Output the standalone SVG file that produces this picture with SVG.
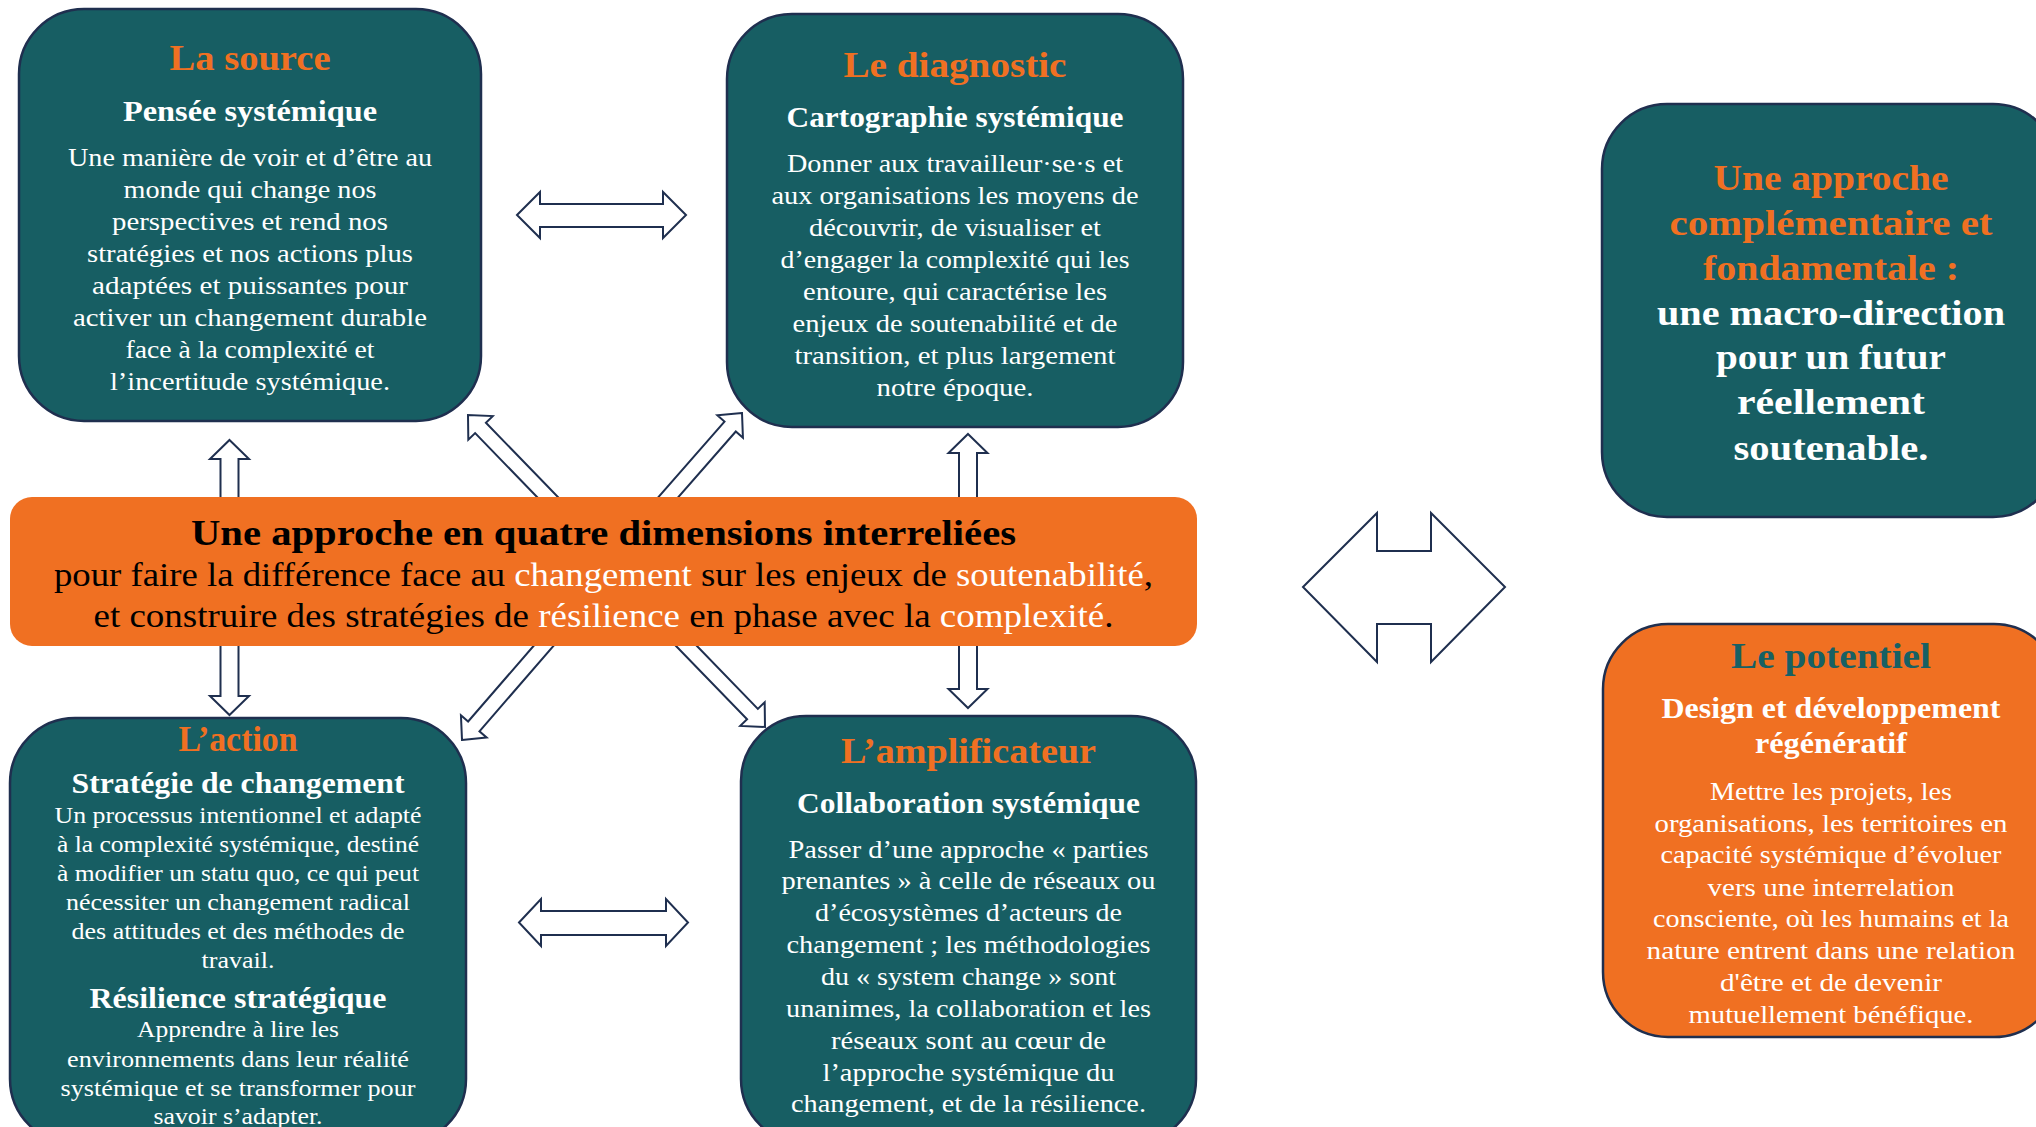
<svg xmlns="http://www.w3.org/2000/svg" width="2036" height="1127" viewBox="0 0 2036 1127">
<style>
text{font-family:"Liberation Serif","Times New Roman",serif;text-anchor:middle}
.box{fill:#175E63;stroke:#1F2F4F;stroke-width:2.5}
.obox{fill:#F07022;stroke:#1F2F4F;stroke-width:2.5}
.ttl{font-size:36px;font-weight:bold;fill:#F07022}
.sub{font-size:29px;font-weight:bold;fill:#fff}
.bd{font-size:25px;fill:#fff}
.bd2{font-size:23px;fill:#fff}
.big{font-size:36px;font-weight:bold}
.arr{fill:#fff;stroke:#1F2F4F;stroke-width:2;stroke-linejoin:miter}
.ctr{font-size:33px;fill:#000}
.w{fill:#fff}
</style>
<rect width="2036" height="1127" fill="#fff"/>

<g id="connectors">
  <polygon class="arr" points="517,215 540,192 540,204 663,204 663,192 686,215 663,238 663,227 540,227 540,238"/>
  <polygon class="arr" points="519,922.5 541,899 541,911 666,911 666,899 688,922.5 666,946 666,935 541,935 541,946"/>
  <polygon class="arr" points="229.5,440 249,459 238.5,459 238.5,510 220.5,510 220.5,459 210,459"/>
  <polygon class="arr" points="229.5,715 249,696 238.5,696 238.5,630 220.5,630 220.5,696 210,696"/>
  <polygon class="arr" points="968,434 987.5,453 977,453 977,510 959,510 959,453 948.5,453"/>
  <polygon class="arr" points="968,708 987.5,689 977,689 977,630 959,630 959,689 948.5,689"/>
  <polygon class="arr" transform="translate(468,415) rotate(-134.1)" points="0,0 -18,-17 -18,-7.5 -140,-7.5 -140,7.5 -18,7.5 -18,17"/>
  <polygon class="arr" transform="translate(742,413) rotate(-48.8)" points="0,0 -18,-17 -18,-7.5 -140,-7.5 -140,7.5 -18,7.5 -18,17"/>
  <polygon class="arr" transform="translate(462,740) rotate(130.9)" points="0,0 -18,-17 -18,-7.5 -140,-7.5 -140,7.5 -18,7.5 -18,17"/>
  <polygon class="arr" transform="translate(765,727) rotate(45.9)" points="0,0 -18,-17 -18,-7.5 -140,-7.5 -140,7.5 -18,7.5 -18,17"/>
  <polygon class="arr" stroke-width="2.5" points="1303,587 1377,513 1377,551 1431,551 1431,513 1505,587 1431,662 1431,624 1377,624 1377,662"/>
</g>

<g id="center">
  <rect x="10" y="497" width="1187" height="149" rx="22" fill="#F07022"/>
  <text class="big" x="603.5" y="545" fill="#000" textLength="825" lengthAdjust="spacingAndGlyphs">Une approche en quatre dimensions interreliées</text>
  <text class="ctr" x="603.5" y="586" textLength="1099" lengthAdjust="spacingAndGlyphs">pour faire la différence face au <tspan class="w">changement</tspan> sur les enjeux de <tspan class="w">soutenabilité</tspan>,</text>
  <text class="ctr" x="603.5" y="627" textLength="1020" lengthAdjust="spacingAndGlyphs">et construire des stratégies de <tspan class="w">résilience</tspan> en phase avec la <tspan class="w">complexité</tspan>.</text>
</g>

<g id="source">
  <rect class="box" x="19" y="9" width="462" height="412" rx="65"/>
  <text class="ttl" x="250" y="70" textLength="161" lengthAdjust="spacingAndGlyphs">La source</text>
  <text class="sub" x="250" y="121" textLength="254" lengthAdjust="spacingAndGlyphs">Pensée systémique</text>
  <text class="bd" x="250" y="166" textLength="364" lengthAdjust="spacingAndGlyphs">Une manière de voir et d’être au</text>
  <text class="bd" x="250" y="198" textLength="253" lengthAdjust="spacingAndGlyphs">monde qui change nos</text>
  <text class="bd" x="250" y="230" textLength="276" lengthAdjust="spacingAndGlyphs">perspectives et rend nos</text>
  <text class="bd" x="250" y="262" textLength="326" lengthAdjust="spacingAndGlyphs">stratégies et nos actions plus</text>
  <text class="bd" x="250" y="294" textLength="316" lengthAdjust="spacingAndGlyphs">adaptées et puissantes pour</text>
  <text class="bd" x="250" y="326" textLength="354" lengthAdjust="spacingAndGlyphs">activer un changement durable</text>
  <text class="bd" x="250" y="358" textLength="249" lengthAdjust="spacingAndGlyphs">face à la complexité et</text>
  <text class="bd" x="250" y="390" textLength="280" lengthAdjust="spacingAndGlyphs">l’incertitude systémique.</text>
</g>

<g id="diagnostic">
  <rect class="box" x="727" y="14" width="456" height="413" rx="65"/>
  <text class="ttl" x="955" y="77" textLength="223" lengthAdjust="spacingAndGlyphs">Le diagnostic</text>
  <text class="sub" x="955" y="127" textLength="337" lengthAdjust="spacingAndGlyphs">Cartographie systémique</text>
  <text class="bd" x="955" y="172" textLength="336" lengthAdjust="spacingAndGlyphs">Donner aux travailleur·se·s et</text>
  <text class="bd" x="955" y="204" textLength="367" lengthAdjust="spacingAndGlyphs">aux organisations les moyens de</text>
  <text class="bd" x="955" y="236" textLength="292" lengthAdjust="spacingAndGlyphs">découvrir, de visualiser et</text>
  <text class="bd" x="955" y="268" textLength="349" lengthAdjust="spacingAndGlyphs">d’engager la complexité qui les</text>
  <text class="bd" x="955" y="300" textLength="304" lengthAdjust="spacingAndGlyphs">entoure, qui caractérise les</text>
  <text class="bd" x="955" y="332" textLength="325" lengthAdjust="spacingAndGlyphs">enjeux de soutenabilité et de</text>
  <text class="bd" x="955" y="364" textLength="321" lengthAdjust="spacingAndGlyphs">transition, et plus largement</text>
  <text class="bd" x="955" y="396" textLength="157" lengthAdjust="spacingAndGlyphs">notre époque.</text>
</g>

<g id="macro">
  <rect class="box" x="1602" y="104" width="456" height="413" rx="65"/>
  <text class="big" x="1831" y="190" fill="#F07022" textLength="235" lengthAdjust="spacingAndGlyphs">Une approche</text>
  <text class="big" x="1831" y="235" fill="#F07022" textLength="323" lengthAdjust="spacingAndGlyphs">complémentaire et</text>
  <text class="big" x="1831" y="280" fill="#F07022" textLength="256" lengthAdjust="spacingAndGlyphs">fondamentale :</text>
  <text class="big" x="1831" y="325" fill="#fff" textLength="348" lengthAdjust="spacingAndGlyphs">une macro-direction</text>
  <text class="big" x="1831" y="369" fill="#fff" textLength="230" lengthAdjust="spacingAndGlyphs">pour un futur</text>
  <text class="big" x="1831" y="414" fill="#fff" textLength="188" lengthAdjust="spacingAndGlyphs">réellement</text>
  <text class="big" x="1831" y="460" fill="#fff" textLength="195" lengthAdjust="spacingAndGlyphs">soutenable.</text>
</g>

<g id="action">
  <rect class="box" x="10" y="718" width="456" height="426" rx="65"/>
  <text class="ttl" x="238" y="751" textLength="119" lengthAdjust="spacingAndGlyphs">L’action</text>
  <text class="sub" x="238" y="793" textLength="333" lengthAdjust="spacingAndGlyphs">Stratégie de changement</text>
  <text class="bd2" x="238" y="823" textLength="367" lengthAdjust="spacingAndGlyphs">Un processus intentionnel et adapté</text>
  <text class="bd2" x="238" y="852" textLength="362" lengthAdjust="spacingAndGlyphs">à la complexité systémique, destiné</text>
  <text class="bd2" x="238" y="881" textLength="362" lengthAdjust="spacingAndGlyphs">à modifier un statu quo, ce qui peut</text>
  <text class="bd2" x="238" y="910" textLength="344" lengthAdjust="spacingAndGlyphs">nécessiter un changement radical</text>
  <text class="bd2" x="238" y="939" textLength="333" lengthAdjust="spacingAndGlyphs">des attitudes et des méthodes de</text>
  <text class="bd2" x="238" y="968" textLength="73" lengthAdjust="spacingAndGlyphs">travail.</text>
  <text class="sub" x="238" y="1008" textLength="297" lengthAdjust="spacingAndGlyphs">Résilience stratégique</text>
  <text class="bd2" x="238" y="1037" textLength="202" lengthAdjust="spacingAndGlyphs">Apprendre à lire les</text>
  <text class="bd2" x="238" y="1067" textLength="342" lengthAdjust="spacingAndGlyphs">environnements dans leur réalité</text>
  <text class="bd2" x="238" y="1096" textLength="355" lengthAdjust="spacingAndGlyphs">systémique et se transformer pour</text>
  <text class="bd2" x="238" y="1124" textLength="169" lengthAdjust="spacingAndGlyphs">savoir s’adapter.</text>
</g>

<g id="amplificateur">
  <rect class="box" x="741" y="716" width="455" height="428" rx="65"/>
  <text class="ttl" x="968.5" y="763" font-size="37" textLength="255" lengthAdjust="spacingAndGlyphs">L’amplificateur</text>
  <text class="sub" x="968.5" y="813" textLength="343" lengthAdjust="spacingAndGlyphs">Collaboration systémique</text>
  <text class="bd" x="968.5" y="858" textLength="360" lengthAdjust="spacingAndGlyphs">Passer d’une approche « parties</text>
  <text class="bd" x="968.5" y="889" textLength="374" lengthAdjust="spacingAndGlyphs">prenantes » à celle de réseaux ou</text>
  <text class="bd" x="968.5" y="921" textLength="307" lengthAdjust="spacingAndGlyphs">d’écosystèmes d’acteurs de</text>
  <text class="bd" x="968.5" y="953" textLength="364" lengthAdjust="spacingAndGlyphs">changement ; les méthodologies</text>
  <text class="bd" x="968.5" y="985" textLength="295" lengthAdjust="spacingAndGlyphs">du « system change » sont</text>
  <text class="bd" x="968.5" y="1017" textLength="365" lengthAdjust="spacingAndGlyphs">unanimes, la collaboration et les</text>
  <text class="bd" x="968.5" y="1049" textLength="275" lengthAdjust="spacingAndGlyphs">réseaux sont au cœur de</text>
  <text class="bd" x="968.5" y="1081" textLength="292" lengthAdjust="spacingAndGlyphs">l’approche systémique du</text>
  <text class="bd" x="968.5" y="1112" textLength="355" lengthAdjust="spacingAndGlyphs">changement, et de la résilience.</text>
</g>

<g id="potentiel">
  <rect class="obox" x="1603" y="624" width="456" height="413" rx="65"/>
  <text class="ttl" x="1831" y="668" font-size="37" fill="#176064" style="fill:#176064" textLength="200" lengthAdjust="spacingAndGlyphs">Le potentiel</text>
  <text class="sub" x="1831" y="718" font-size="28" textLength="339" lengthAdjust="spacingAndGlyphs">Design et développement</text>
  <text class="sub" x="1831" y="753" font-size="28" textLength="152" lengthAdjust="spacingAndGlyphs">régénératif</text>
  <text class="bd" x="1831" y="800" textLength="242" lengthAdjust="spacingAndGlyphs">Mettre les projets, les</text>
  <text class="bd" x="1831" y="832" textLength="353" lengthAdjust="spacingAndGlyphs">organisations, les territoires en</text>
  <text class="bd" x="1831" y="863" textLength="341" lengthAdjust="spacingAndGlyphs">capacité systémique d’évoluer</text>
  <text class="bd" x="1831" y="896" textLength="247" lengthAdjust="spacingAndGlyphs">vers une interrelation</text>
  <text class="bd" x="1831" y="927" textLength="356" lengthAdjust="spacingAndGlyphs">consciente, où les humains et la</text>
  <text class="bd" x="1831" y="959" textLength="369" lengthAdjust="spacingAndGlyphs">nature entrent dans une relation</text>
  <text class="bd" x="1831" y="991" textLength="222" lengthAdjust="spacingAndGlyphs">d'être et de devenir</text>
  <text class="bd" x="1831" y="1023" textLength="285" lengthAdjust="spacingAndGlyphs">mutuellement bénéfique.</text>
</g>
</svg>
